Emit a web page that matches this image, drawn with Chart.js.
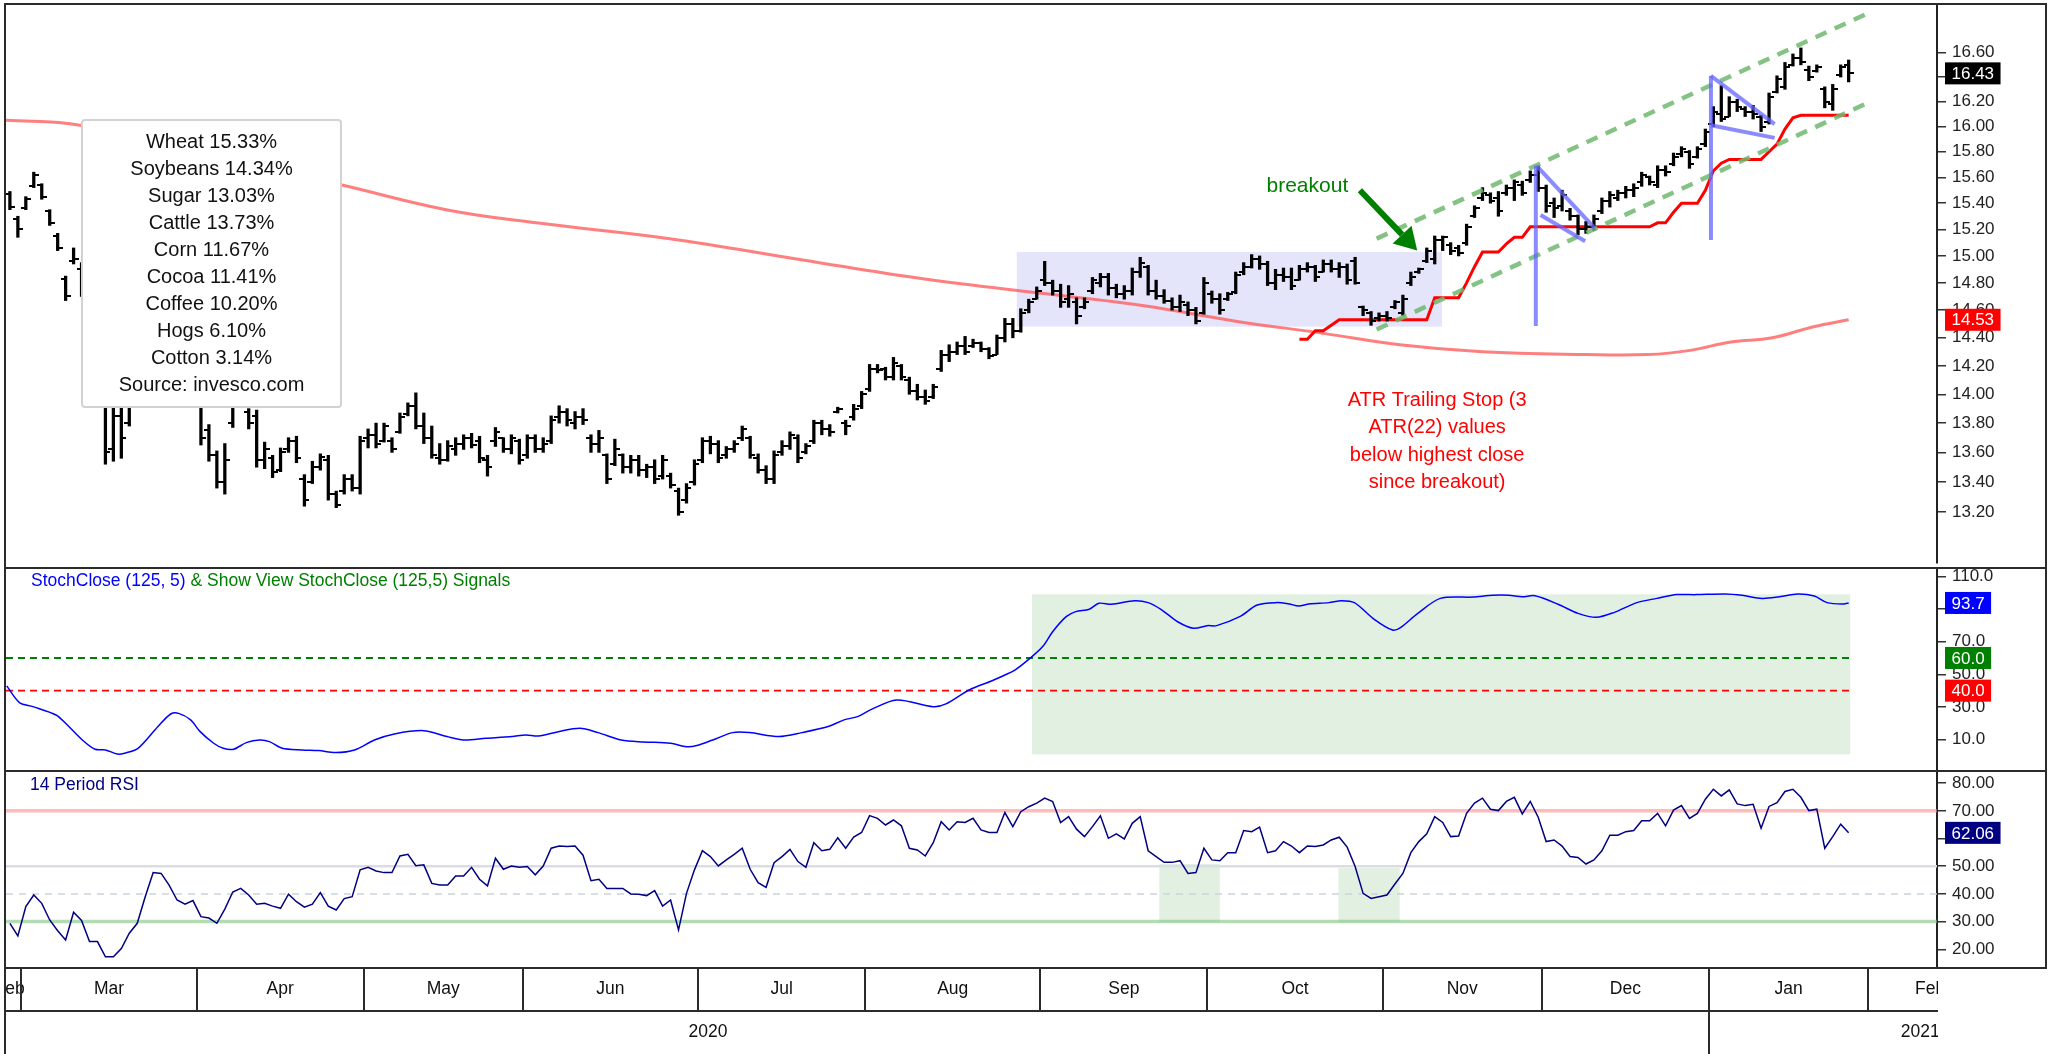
<!DOCTYPE html>
<html>
<head>
<meta charset="utf-8">
<title>DBA – StochClose and RSI</title>
<script src="https://cdn.jsdelivr.net/npm/chart.js@4.4.1/dist/chart.umd.min.js"></script>
<style>
  body { margin: 0; background: #fff; }
  #page { position: relative; width: 2049px; height: 1054px; overflow: hidden; background: #fff; }
  #page canvas { position: absolute; left: 0; }
  .rule { position: absolute; background: #2b2b2b; }
</style>
</head>
<body>
<div id="page">
  <canvas id="priceChart" width="2049" height="568" style="top:0"></canvas>
  <canvas id="stochChart" width="2049" height="203" style="top:568px"></canvas>
  <canvas id="rsiChart" width="2049" height="283" style="top:771px"></canvas>
  <div class="rule" style="left:4px;top:3px;width:2043px;height:2px"></div>
  <div class="rule" style="left:4px;top:3px;width:2px;height:1051px"></div>
  <div class="rule" style="left:2045px;top:3px;width:2px;height:966px"></div>
  <div class="rule" style="left:4px;top:567px;width:2043px;height:2px"></div>
  <div class="rule" style="left:4px;top:770px;width:2043px;height:2px"></div>
  <div class="rule" style="left:4px;top:967px;width:2043px;height:2px"></div>
  <div class="rule" style="left:4px;top:1010px;width:1934px;height:2px"></div>
</div>
<script>
const FONT = '"Liberation Sans", Arial, Helvetica, sans-serif';
Chart.defaults.font.family = FONT;
Chart.defaults.color = '#222';

// trading day index: 0 = 2 Mar 2020, the first two bars are the end of February
const firstDay = -2;

const opens = [
  15.47, 15.28, 15.36, 15.53, 15.54, 15.34, 15.15, 14.83, 14.96, 14.90,
  14.70, 14.35, 13.95, 13.62, 13.85, 13.80, 14.00, 14.15, 14.30, 14.40,
  14.30, 14.25, 14.10, 14.05, 14.00, 13.75, 13.58, 13.40, 13.80, 13.95,
  13.88, 13.85, 13.55, 13.56, 13.48, 13.62, 13.68, 13.42, 13.40, 13.50,
  13.55, 13.32, 13.34, 13.42, 13.36, 13.70, 13.72, 13.68, 13.68, 13.74,
  13.86, 13.92, 13.78, 13.70, 13.56, 13.55, 13.62, 13.66, 13.70, 13.68,
  13.55, 13.68, 13.70, 13.62, 13.68, 13.58, 13.70, 13.62, 13.68, 13.84,
  13.88, 13.80, 13.84, 13.70, 13.66, 13.58, 13.52, 13.58, 13.50, 13.55,
  13.48, 13.50, 13.44, 13.44, 13.34, 13.28, 13.40, 13.55, 13.68, 13.66,
  13.58, 13.62, 13.70, 13.70, 13.56, 13.48, 13.42, 13.60, 13.64, 13.70,
  13.60, 13.68, 13.80, 13.76, 13.88, 13.80, 13.84, 13.92, 14.04, 14.18,
  14.18, 14.12, 14.20, 14.10, 14.02, 13.98, 13.98, 14.18, 14.28, 14.30,
  14.34, 14.34, 14.36, 14.32, 14.28, 14.40, 14.50, 14.45, 14.60, 14.68,
  14.82, 14.80, 14.74, 14.68, 14.66, 14.62, 14.74, 14.80, 14.84, 14.76,
  14.72, 14.74, 14.88, 14.92, 14.74, 14.70, 14.67, 14.62, 14.64, 14.60,
  14.58, 14.72, 14.68, 14.68, 14.73, 14.88, 14.92, 14.98, 14.94, 14.80,
  14.86, 14.84, 14.82, 14.90, 14.92, 14.88, 14.94, 14.90, 14.92, 14.96,
  14.62, 14.58, 14.54, 14.56, 14.62, 14.58, 14.80, 14.88, 14.96, 14.98,
  15.12, 15.08, 15.06, 15.10, 15.30, 15.44, 15.46, 15.44, 15.48, 15.52,
  15.54, 15.58, 15.62, 15.52, 15.40, 15.38, 15.34, 15.30, 15.20, 15.22,
  15.34, 15.42, 15.44, 15.48, 15.50, 15.56, 15.60, 15.54, 15.66, 15.70,
  15.78, 15.80, 15.76, 15.86, 16.02, 16.10, 16.08, 16.20, 16.14, 16.12,
  16.08, 16.04, 16.28, 16.32, 16.50, 16.56, 16.46, 16.45, 16.30, 16.18,
  16.42, 16.50
];
const highs = [
  15.49, 15.30, 15.45, 15.64, 15.55, 15.35, 15.17, 14.85, 15.06, 14.95,
  14.75, 14.40, 14.05, 13.95, 13.95, 14.05, 14.20, 14.35, 14.45, 14.50,
  14.40, 14.35, 14.20, 14.15, 14.05, 13.79, 13.61, 13.66, 13.98, 14.05,
  13.90, 13.89, 13.67, 13.58, 13.63, 13.70, 13.71, 13.45, 13.54, 13.59,
  13.58, 13.34, 13.45, 13.45, 13.71, 13.76, 13.80, 13.80, 13.70, 13.87,
  13.94, 14.01, 13.87, 13.78, 13.66, 13.68, 13.70, 13.72, 13.73, 13.71,
  13.58, 13.77, 13.70, 13.72, 13.69, 13.72, 13.72, 13.70, 13.85, 13.92,
  13.90, 13.88, 13.90, 13.72, 13.75, 13.59, 13.69, 13.59, 13.58, 13.58,
  13.52, 13.55, 13.58, 13.46, 13.36, 13.39, 13.55, 13.70, 13.71, 13.68,
  13.64, 13.68, 13.78, 13.71, 13.59, 13.51, 13.61, 13.68, 13.74, 13.72,
  13.66, 13.82, 13.82, 13.79, 13.91, 13.82, 13.93, 14.02, 14.21, 14.21,
  14.19, 14.26, 14.21, 14.12, 14.07, 14.03, 14.07, 14.31, 14.35, 14.37,
  14.41, 14.39, 14.37, 14.33, 14.42, 14.54, 14.54, 14.61, 14.68, 14.77,
  14.96, 14.82, 14.79, 14.78, 14.69, 14.69, 14.84, 14.87, 14.87, 14.79,
  14.78, 14.91, 14.99, 14.93, 14.82, 14.75, 14.69, 14.71, 14.66, 14.62,
  14.84, 14.74, 14.72, 14.73, 14.88, 14.95, 15.01, 15.00, 14.96, 14.90,
  14.91, 14.91, 14.93, 14.95, 14.93, 14.97, 14.97, 14.95, 14.94, 14.99,
  14.63, 14.59, 14.58, 14.59, 14.67, 14.71, 14.88, 14.91, 15.06, 15.15,
  15.15, 15.10, 15.08, 15.24, 15.38, 15.52, 15.48, 15.49, 15.54, 15.58,
  15.57, 15.65, 15.69, 15.54, 15.44, 15.50, 15.36, 15.31, 15.26, 15.31,
  15.44, 15.49, 15.50, 15.53, 15.55, 15.64, 15.61, 15.69, 15.69, 15.79,
  15.84, 15.81, 15.84, 15.98, 16.16, 16.33, 16.24, 16.22, 16.16, 16.17,
  16.09, 16.27, 16.41, 16.52, 16.59, 16.64, 16.49, 16.50, 16.32, 16.34,
  16.50, 16.54
];
const lows = [
  15.35, 15.14, 15.35, 15.52, 15.43, 15.23, 15.04, 14.67, 14.94, 14.70,
  14.35, 13.95, 13.52, 13.54, 13.56, 13.78, 13.93, 14.05, 14.20, 14.25,
  14.15, 14.05, 13.98, 13.95, 13.65, 13.54, 13.36, 13.32, 13.77, 13.91,
  13.76, 13.50, 13.49, 13.43, 13.47, 13.60, 13.53, 13.24, 13.39, 13.48,
  13.28, 13.23, 13.32, 13.34, 13.32, 13.63, 13.63, 13.67, 13.60, 13.73,
  13.85, 13.76, 13.66, 13.56, 13.52, 13.54, 13.58, 13.62, 13.63, 13.53,
  13.44, 13.64, 13.60, 13.59, 13.52, 13.56, 13.60, 13.60, 13.66, 13.80,
  13.78, 13.76, 13.79, 13.60, 13.60, 13.39, 13.51, 13.46, 13.46, 13.44,
  13.43, 13.39, 13.42, 13.36, 13.18, 13.26, 13.38, 13.53, 13.59, 13.53,
  13.56, 13.60, 13.68, 13.56, 13.46, 13.39, 13.39, 13.58, 13.62, 13.53,
  13.59, 13.66, 13.72, 13.71, 13.87, 13.72, 13.82, 13.90, 14.02, 14.15,
  14.10, 14.10, 14.10, 14.00, 13.96, 13.93, 13.97, 14.16, 14.23, 14.28,
  14.28, 14.33, 14.30, 14.25, 14.28, 14.37, 14.40, 14.44, 14.58, 14.68,
  14.78, 14.71, 14.62, 14.62, 14.50, 14.61, 14.72, 14.77, 14.71, 14.69,
  14.68, 14.71, 14.84, 14.71, 14.68, 14.65, 14.60, 14.59, 14.56, 14.50,
  14.57, 14.65, 14.57, 14.67, 14.72, 14.86, 14.91, 14.90, 14.78, 14.75,
  14.81, 14.75, 14.82, 14.88, 14.81, 14.88, 14.88, 14.84, 14.79, 14.79,
  14.56, 14.49, 14.52, 14.52, 14.61, 14.56, 14.78, 14.87, 14.95, 14.94,
  15.04, 15.01, 15.00, 15.08, 15.29, 15.42, 15.40, 15.30, 15.46, 15.42,
  15.46, 15.56, 15.49, 15.33, 15.29, 15.34, 15.27, 15.16, 15.17, 15.19,
  15.32, 15.37, 15.42, 15.44, 15.45, 15.53, 15.54, 15.52, 15.61, 15.69,
  15.76, 15.67, 15.75, 15.84, 16.00, 16.04, 16.08, 16.12, 16.08, 16.06,
  15.96, 16.02, 16.27, 16.30, 16.49, 16.50, 16.37, 16.44, 16.15, 16.13,
  16.40, 16.36
];
const closes = [
  15.37, 15.20, 15.43, 15.62, 15.45, 15.25, 15.06, 14.70, 14.98, 14.75,
  14.40, 14.05, 13.60, 13.85, 13.70, 13.98, 14.15, 14.30, 14.40, 14.30,
  14.25, 14.10, 14.05, 14.10, 13.70, 13.58, 13.40, 13.55, 13.95, 13.98,
  13.80, 13.55, 13.62, 13.47, 13.60, 13.68, 13.56, 13.28, 13.50, 13.57,
  13.32, 13.25, 13.42, 13.36, 13.68, 13.72, 13.66, 13.78, 13.62, 13.84,
  13.92, 13.78, 13.70, 13.58, 13.55, 13.64, 13.66, 13.70, 13.65, 13.56,
  13.50, 13.74, 13.62, 13.70, 13.55, 13.70, 13.62, 13.66, 13.82, 13.88,
  13.82, 13.84, 13.82, 13.66, 13.70, 13.42, 13.62, 13.50, 13.55, 13.48,
  13.50, 13.42, 13.55, 13.38, 13.20, 13.36, 13.52, 13.68, 13.66, 13.56,
  13.62, 13.66, 13.76, 13.58, 13.48, 13.42, 13.58, 13.64, 13.72, 13.56,
  13.64, 13.80, 13.76, 13.74, 13.90, 13.78, 13.90, 14.00, 14.18, 14.17,
  14.12, 14.22, 14.12, 14.02, 13.98, 13.95, 14.05, 14.28, 14.30, 14.34,
  14.30, 14.36, 14.32, 14.27, 14.40, 14.50, 14.45, 14.58, 14.66, 14.74,
  14.80, 14.74, 14.66, 14.72, 14.56, 14.66, 14.82, 14.84, 14.76, 14.72,
  14.74, 14.88, 14.95, 14.74, 14.70, 14.67, 14.62, 14.66, 14.60, 14.52,
  14.80, 14.68, 14.60, 14.72, 14.86, 14.92, 14.98, 14.94, 14.80, 14.86,
  14.84, 14.78, 14.90, 14.92, 14.84, 14.94, 14.90, 14.92, 14.82, 14.80,
  14.60, 14.52, 14.56, 14.54, 14.66, 14.68, 14.84, 14.90, 15.04, 15.12,
  15.14, 15.04, 15.02, 15.22, 15.36, 15.48, 15.42, 15.34, 15.52, 15.56,
  15.48, 15.62, 15.52, 15.38, 15.36, 15.46, 15.30, 15.20, 15.22, 15.28,
  15.42, 15.46, 15.48, 15.50, 15.52, 15.62, 15.56, 15.66, 15.64, 15.76,
  15.82, 15.70, 15.82, 15.96, 16.12, 16.06, 16.20, 16.16, 16.12, 16.10,
  16.00, 16.24, 16.38, 16.48, 16.56, 16.52, 16.40, 16.48, 16.20, 16.30,
  16.48, 16.43
];
const days = closes.map((_, k) => firstDay + k);

// 200-day moving average, read at a few points along the curve
const smaDay = [-2.5, 6.8, 39.7, 52.8, 64.1, 80.9, 97.6, 112.7, 129.5, 140.7, 152.0, 163.2, 172.6, 183.0, 196.0, 203.8, 209.1, 214.2, 219.4, 224.6, 229.0];
const smaVal = [16.05, 16.01, 15.54, 15.35, 15.25, 15.13, 14.97, 14.83, 14.71, 14.63, 14.52, 14.43, 14.35, 14.30, 14.28, 14.28, 14.31, 14.37, 14.40, 14.48, 14.53];

// ATR trailing stop, one value per day from day 160
const atrFrom = 160;
const atrStop = [
  14.39, 14.39, 14.45, 14.45, 14.49, 14.53, 14.53, 14.53, 14.53, 14.53,
  14.53, 14.53, 14.53, 14.53, 14.53, 14.53, 14.53, 14.69, 14.69, 14.69,
  14.69, 14.80, 14.92, 15.03, 15.03, 15.03, 15.09, 15.14, 15.14, 15.22,
  15.22, 15.22, 15.22, 15.22, 15.22, 15.22, 15.22, 15.22, 15.22, 15.22,
  15.22, 15.22, 15.22, 15.22, 15.22, 15.25, 15.25, 15.33, 15.40, 15.40,
  15.40, 15.50, 15.65, 15.71, 15.74, 15.74, 15.74, 15.74, 15.74, 15.80,
  15.86, 15.98, 16.07, 16.09, 16.09, 16.09, 16.09, 16.09, 16.09, 16.09
];

// drawn trend lines: [day, price] end points
const channelTop = [[169.7, 15.13], [231.4, 16.93]];
const channelBottom = [[169.7, 14.46], [231.4, 16.19]];
const pole1 = [[189.7, 15.69], [189.7, 14.485]];
const pennant1Top = [[189.8, 15.69], [197.1, 15.21]];
const pennant1Bottom = [[190.3, 15.31], [195.9, 15.11]];
const pole2 = [[211.7, 16.41], [211.7, 15.12]];
const pennant2Top = [[211.7, 16.41], [219.7, 16.02]];
const pennant2Bottom = [[211.7, 16.01], [219.7, 15.91]];
const rangeBox = { from: 124.5, to: 177.9, top: 15.03, bottom: 14.48 };

const breakoutAt = [161.0, 15.53];
const arrowFrom = [167.6, 15.50];
const arrowTo = [174.8, 15.04];
const atrNoteAt = [177.3, 13.96];
const atrNote = ['ATR Trailing Stop (3', 'ATR(22) values', 'below highest close', 'since breakout)'];

const weights = ['Wheat 15.33%', 'Soybeans 14.34%', 'Sugar 13.03%', 'Cattle 13.73%', 'Corn 11.67%',
  'Cocoa 11.41%', 'Coffee 10.20%', 'Hogs 6.10%', 'Cotton 3.14%', 'Source: invesco.com'];

const priceTicks = [13.2, 13.4, 13.6, 13.8, 14.0, 14.2, 14.4, 14.6, 14.8, 15.0, 15.2, 15.4, 15.6, 15.8, 16.0, 16.2, 16.4, 16.6];

// StochClose (125,5)
const stochDay = [-2.4, -0.8, 0.9, 3.8, 5.0, 7.1, 8.7, 10.0, 11.5, 12.4, 14.1, 16.6, 18.2, 19.2, 20.7, 21.9, 23.6, 24.8, 26.1, 27.7,
  29.4, 30.6, 32.2, 34.7, 36.8, 38.9, 41.3, 43.8, 46.3, 50.0, 52.9, 55.0, 57.8, 61.1, 62.8, 64.4, 66.9, 69.6, 71.9, 74.8,
  77.6, 81.0, 83.0, 84.3, 86.3, 88.8, 90.9, 94.6, 97.5, 100.8, 102.8, 104.5, 106.1, 109.4, 114.0, 115.6, 118.5, 121.4, 123.0, 124.3,
  126.4, 127.8, 129.0, 130.7, 131.9, 133.6, 134.8, 136.4, 139.3, 141.0, 142.6, 144.7, 146.7, 148.4, 149.6, 152.5, 154.7, 157.1, 158.7, 159.9,
  161.2, 163.7, 165.3, 166.9, 169.4, 171.7, 172.7, 174.8, 177.7, 181.8, 184.3, 186.3, 188.0, 189.6, 192.5, 195.0, 197.3, 199.5, 202.4, 204.9,
  207.4, 209.8, 213.5, 215.6, 218.1, 220.1, 222.6, 224.7, 226.3, 228.4, 229.0];
const stochVal = [42.9, 32.7, 30.2, 25.1, 20.0, 9.8, 4.1, 3.7, 1.2, 1.7, 4.7, 18.0, 25.7, 26.1, 22.1, 14.9, 7.8, 4.7, 4.1, 8.2,
  9.8, 8.8, 4.7, 3.7, 3.3, 2.1, 3.7, 9.8, 13.5, 15.5, 11.9, 9.8, 10.8, 11.9, 12.9, 12.3, 14.9, 17.0, 14.3, 9.8,
  8.6, 7.8, 5.7, 6.4, 9.8, 14.3, 14.3, 11.9, 14.3, 18.0, 22.1, 24.1, 28.2, 34.3, 30.2, 31.9, 40.4, 46.1, 49.6, 52.7,
  60.8, 67.3, 76.1, 85.3, 88.4, 89.8, 93.5, 92.9, 95.1, 93.9, 89.8, 82.2, 78.2, 79.8, 79.8, 85.3, 92.4, 93.9, 93.1, 91.8,
  93.1, 93.9, 95.1, 93.9, 83.7, 77.1, 78.6, 87.0, 96.5, 97.3, 98.4, 98.4, 97.5, 98.1, 92.9, 87.3, 84.9, 87.8, 93.9, 96.5,
  98.8, 98.8, 99.2, 98.4, 96.5, 97.3, 99.2, 97.9, 93.9, 93.1, 93.7];
const stochSignal = { from: 126.4, to: 229.2, top: 99, bottom: 1 };
const stochTicks = [10, 30, 50, 70, 90, 110];

// 14 period RSI, one value per day from firstDay
const rsiVals = [
  29.4, 24.8, 35.4, 39.6, 36.6, 30.6, 26.7, 23.4, 33.4, 30.4,
  22.8, 22.8, 17.3, 17.3, 20.3, 25.8, 29.4, 39.0, 47.7, 47.4,
  43.2, 37.8, 36.3, 37.6, 31.8, 31.3, 29.4, 34.5, 40.7, 42.0,
  39.6, 36.3, 36.6, 35.6, 34.8, 39.9, 37.2, 35.2, 36.3, 40.5,
  35.6, 34.2, 38.3, 39.0, 48.7, 49.6, 48.3, 47.7, 47.7, 53.7,
  54.3, 50.2, 50.5, 43.8, 43.2, 43.2, 46.5, 46.5, 49.6, 45.3,
  42.9, 52.9, 48.9, 50.1, 49.6, 49.9, 46.9, 50.1, 56.5, 57.3,
  57.1, 57.3, 54.0, 44.8, 45.3, 42.0, 42.0, 42.0, 40.0, 39.9,
  39.4, 41.2, 35.6, 37.8, 27.0, 40.2, 48.7, 55.6, 53.5, 50.1,
  52.3, 54.3, 56.5, 48.9, 44.1, 42.4, 51.3, 53.5, 56.1, 51.7,
  49.6, 58.5, 55.6, 56.1, 60.3, 56.5, 60.5, 62.2, 68.3, 67.3,
  64.9, 66.7, 64.6, 56.5, 55.9, 53.7, 58.5, 66.1, 63.1, 66.1,
  65.8, 67.3, 63.1, 62.2, 62.2, 69.4, 64.3, 69.7, 71.5,
  72.8, 74.6, 73.4, 65.8, 67.9, 63.4, 60.7, 64.3, 68.2, 60.1,
  61.7, 59.9, 65.5, 67.9, 55.6, 53.5, 51.4, 51.4, 52.0, 47.4,
  47.7, 56.5, 52.3, 52.0, 54.9, 54.9, 62.9, 62.5, 64.1, 54.9,
  55.6, 58.9, 57.3, 54.9, 57.3, 57.1, 57.7, 59.5, 60.5, 56.9,
  49.9, 40.2, 38.4, 39.0, 39.6, 43.6, 47.4, 54.9, 58.9, 61.7,
  67.9, 65.8, 60.7, 60.9, 69.1, 72.8, 74.6, 70.6, 70.1, 73.4,
  74.9, 68.9, 73.4, 67.7, 58.9, 59.5, 57.3, 53.5, 53.2, 50.8,
  52.3, 55.6, 61.2, 61.2, 62.5, 62.9, 66.4, 66.4, 69.1, 64.6,
  70.3, 71.9, 67.3, 69.1, 74.2, 77.8, 75.4, 77.6, 72.5, 71.9,
  72.4, 63.7, 71.6, 73.0, 77.0, 77.8, 74.9, 70.1, 70.6, 56.5,
  60.7, 65.2, 62.06
];
const rsiSignals = [
  { from: 142.4, to: 150.0, top: 50.8, bottom: 29.75 },
  { from: 164.9, to: 172.6, top: 49.3, bottom: 29.75 }
];
const rsiTicks = [20, 30, 40, 50, 60, 70, 80];

// first trading day of each month on the axis (Feb 2020 .. Feb 2021)
const monthNames = ['Feb', 'Mar', 'Apr', 'May', 'Jun', 'Jul', 'Aug', 'Sep', 'Oct', 'Nov', 'Dec', 'Jan', 'Feb'];
const monthStart = [-20, 0, 22, 43, 63, 85, 106, 128, 149, 171, 191, 212, 232];
const yearNames = ['2020', '2021'];
const yearTickDay = [85.7, 238.0];
const newYearMonth = 11;

const xMin = -2.49, xMax = 240.1;
const gap = 0.55; // month divider sits just before the month's first bar

// labels sit mid-month; the cut-off months at either end lean outwards
const monthMid = monthStart.map((s, k) => {
  const a = Math.max(s - gap, xMin - 1);
  const b = k + 1 < monthStart.length ? monthStart[k + 1] - gap : s + 15;
  return (a + b) / 2;
});

const pts = arr => arr.map(([x, y]) => ({ x, y }));
const hline = (v, from, to) => [{ x: from, y: v }, { x: to, y: v }];
const seg = (data, color, width, dash) => ({
  type: 'line', data, borderColor: color, borderWidth: width, borderDash: dash || [],
  pointRadius: 0, fill: false, tension: 0
});

function tickMark(side) {
  const c = document.createElement('canvas');
  c.width = 10; c.height = 2;
  const g = c.getContext('2d');
  g.fillStyle = '#000';
  g.fillRect(side === 'left' ? 0 : 5, 0, 5, 2);
  return c;
}

const fitRight = s => { s.width = 112; s.paddingTop = 0; s.paddingBottom = 0; };
const hiddenX = () => ({ type: 'linear', min: xMin, max: xMax, bounds: 'data', display: false, offset: false });
const rightAxis = (extra) => Object.assign({
  position: 'right', bounds: 'data',
  grid: { drawOnChartArea: false, color: '#333', tickLength: 9, lineWidth: 1.5 },
  border: { display: true, color: '#222', width: 2 },
  afterFit: fitRight
}, extra);
const tickFont = { size: 17 };

function valueTag(ctx, scale, value, text, bg) {
  const y = scale.getPixelForValue(value);
  ctx.save();
  ctx.font = '17px ' + FONT;
  const w = ctx.measureText(text).width + 13;
  ctx.fillStyle = bg;
  ctx.fillRect(scale.left + 8, y - 11, w, 22);
  ctx.fillStyle = '#fff';
  ctx.textAlign = 'left';
  ctx.textBaseline = 'middle';
  ctx.fillText(text, scale.left + 14.5, y + 1);
  ctx.restore();
}

function shadeBoxes(chart, boxes, color, yId) {
  const { ctx, chartArea } = chart;
  const x = chart.scales.x, y = chart.scales[yId || 'y'];
  ctx.save();
  ctx.beginPath();
  ctx.rect(chartArea.left, chartArea.top, chartArea.width, chartArea.height);
  ctx.clip();
  ctx.fillStyle = color;
  boxes.forEach(b => {
    const x0 = x.getPixelForValue(b.from), x1 = x.getPixelForValue(b.to);
    const y0 = y.getPixelForValue(b.top), y1 = y.getPixelForValue(b.bottom);
    ctx.fillRect(x0, y0, x1 - x0, y1 - y0);
  });
  ctx.restore();
}

const base = {
  responsive: false,
  animation: false,
  events: [],
  plugins: { legend: { display: false }, tooltip: { enabled: false } }
};

// ---------- price panel ----------
new Chart(document.getElementById('priceChart'), {
  type: 'bar',
  data: {
    datasets: [
      seg(pts(pole1), 'rgba(100,100,255,0.75)', 4),
      seg(pts(pennant1Top), 'rgba(100,100,255,0.75)', 4),
      seg(pts(pennant1Bottom), 'rgba(100,100,255,0.75)', 4),
      seg(pts(pole2), 'rgba(100,100,255,0.75)', 4),
      seg(pts(pennant2Top), 'rgba(100,100,255,0.75)', 4),
      seg(pts(pennant2Bottom), 'rgba(100,100,255,0.75)', 4),
      seg(pts(channelTop), 'rgba(110,185,110,0.85)', 4.5, [12, 9]),
      seg(pts(channelBottom), 'rgba(110,185,110,0.85)', 4.5, [12, 9]),
      {
        type: 'scatter', label: 'Open',
        data: days.map((d, k) => ({ x: d, y: opens[k] })),
        pointStyle: tickMark('left'), pointRadius: 3
      },
      {
        type: 'scatter', label: 'Close',
        data: days.map((d, k) => ({ x: d, y: closes[k] })),
        pointStyle: tickMark('right'), pointRadius: 3
      },
      {
        type: 'bar', label: 'High-Low',
        data: days.map((d, k) => ({ x: d, y: [lows[k], highs[k]] })),
        backgroundColor: '#000', borderWidth: 0, barThickness: 2.6
      },
      Object.assign(seg(atrStop.map((v, k) => ({ x: atrFrom + k, y: v })), '#ff0000', 3), { label: 'ATR stop' }),
      Object.assign(seg(smaDay.map((d, k) => ({ x: d, y: smaVal[k] })), 'rgba(255,95,95,0.8)', 3), { label: 'SMA 200', tension: 0.4 })
    ]
  },
  options: Object.assign({}, base, {
    layout: { padding: { top: 5, left: 6, right: 0, bottom: 0 } },
    scales: {
      x: hiddenX(),
      y: rightAxis({
        type: 'logarithmic', min: 12.87, max: 17.0, beginAtZero: false,
        afterBuildTicks: s => { s.ticks = priceTicks.map(v => ({ value: v })); },
        ticks: { callback: v => Number(v).toFixed(2), padding: 6, color: '#222', font: tickFont, autoSkip: false }
      })
    }
  }),
  plugins: [{
    id: 'priceNotes',
    beforeDatasetsDraw(chart) {
      shadeBoxes(chart, [rangeBox], 'rgba(205,205,248,0.55)');
    },
    afterDatasetsDraw(chart) {
      const { ctx } = chart;
      const x = chart.scales.x, y = chart.scales.y;
      ctx.save();
      // breakout label and arrow
      ctx.font = '21px ' + FONT;
      ctx.fillStyle = '#008000';
      ctx.textAlign = 'center';
      ctx.textBaseline = 'middle';
      ctx.fillText('breakout', x.getPixelForValue(breakoutAt[0]), y.getPixelForValue(breakoutAt[1]));
      const x0 = x.getPixelForValue(arrowFrom[0]), y0 = y.getPixelForValue(arrowFrom[1]);
      const x1 = x.getPixelForValue(arrowTo[0]), y1 = y.getPixelForValue(arrowTo[1]);
      const ang = Math.atan2(y1 - y0, x1 - x0);
      const bx = x1 - 22 * Math.cos(ang), by = y1 - 22 * Math.sin(ang);
      ctx.strokeStyle = '#008000';
      ctx.lineWidth = 6;
      ctx.beginPath(); ctx.moveTo(x0, y0); ctx.lineTo(bx, by); ctx.stroke();
      ctx.beginPath();
      ctx.moveTo(x1, y1);
      ctx.lineTo(bx + 13 * Math.sin(ang), by - 13 * Math.cos(ang));
      ctx.lineTo(bx - 13 * Math.sin(ang), by + 13 * Math.cos(ang));
      ctx.closePath(); ctx.fill();
      // ATR note
      ctx.font = '20px ' + FONT;
      ctx.fillStyle = '#ff0000';
      const nx = x.getPixelForValue(atrNoteAt[0]), ny = y.getPixelForValue(atrNoteAt[1]);
      atrNote.forEach((t, k) => ctx.fillText(t, nx, ny + k * 27.5));
      // weights box
      ctx.fillStyle = '#fff';
      ctx.strokeStyle = '#d2d2d2';
      ctx.lineWidth = 2;
      ctx.beginPath();
      ctx.roundRect(82, 120, 259, 287, 3);
      ctx.fill(); ctx.stroke();
      ctx.fillStyle = '#111';
      weights.forEach((t, k) => ctx.fillText(t, 211.5, 142 + k * 27.1));
      ctx.restore();
    },
    afterDraw(chart) {
      const y = chart.scales.y;
      valueTag(chart.ctx, y, smaVal[smaVal.length - 1], smaVal[smaVal.length - 1].toFixed(2), '#ff0000');
      valueTag(chart.ctx, y, closes[closes.length - 1], closes[closes.length - 1].toFixed(2), '#000');
    }
  }]
});

// ---------- StochClose panel ----------
new Chart(document.getElementById('stochChart'), {
  type: 'line',
  data: {
    datasets: [
      Object.assign(seg(stochDay.map((d, k) => ({ x: d, y: stochVal[k] })), '#0000ff', 1.5), { tension: 0.3 }),
      seg(hline(60, xMin, stochSignal.to), '#008000', 1.8, [7, 5]),
      seg(hline(40, xMin, stochSignal.to), '#ff0000', 1.8, [7, 5])
    ]
  },
  options: Object.assign({}, base, {
    layout: { padding: { top: 0, left: 6, right: 0, bottom: 0 } },
    scales: {
      x: hiddenX(),
      y: rightAxis({
        type: 'linear', min: -9.2, max: 115.1,
        afterBuildTicks: s => { s.ticks = stochTicks.map(v => ({ value: v })); },
        ticks: { callback: v => Number(v).toFixed(1), padding: 6, color: '#222', font: tickFont, autoSkip: false }
      })
    }
  }),
  plugins: [{
    id: 'stochNotes',
    beforeDatasetsDraw(chart) {
      shadeBoxes(chart, [stochSignal], '#e2f0e2');
    },
    afterDraw(chart) {
      const { ctx } = chart;
      const y = chart.scales.y;
      ctx.save();
      ctx.font = '17.5px ' + FONT;
      ctx.textAlign = 'left';
      ctx.textBaseline = 'middle';
      const first = 'StochClose (125, 5)';
      ctx.fillStyle = '#0000ff';
      ctx.fillText(first, 31, 13.5);
      ctx.fillStyle = '#008000';
      ctx.fillText(' & Show View StochClose (125,5) Signals', 31 + ctx.measureText(first).width, 13.5);
      ctx.restore();
      valueTag(ctx, y, 40, '40.0', '#ff0000');
      valueTag(ctx, y, 60, '60.0', '#008000');
      const last = stochVal[stochVal.length - 1];
      valueTag(ctx, y, last, last.toFixed(1), '#0000ff');
    }
  }]
});

// ---------- RSI panel with the date axis ----------
new Chart(document.getElementById('rsiChart'), {
  type: 'line',
  data: {
    datasets: [
      seg(rsiVals.map((v, k) => ({ x: firstDay + k, y: v })), '#000080', 1.5),
      seg(hline(70, xMin, xMax), 'rgba(255,140,140,0.6)', 3.5),
      seg(hline(50, xMin, xMax), '#dcdce6', 2.5),
      seg(hline(40, xMin, xMax), '#cbd4de', 1.5, [7, 6]),
      seg(hline(30, xMin, xMax), 'rgba(130,195,130,0.6)', 3.5)
    ]
  },
  options: Object.assign({}, base, {
    layout: { padding: { top: 0, left: 6, right: 0, bottom: 0 } },
    scales: {
      x: {
        type: 'linear', min: xMin, max: xMax, bounds: 'data', position: 'bottom', offset: false,
        grid: { display: false, drawTicks: false },
        border: { display: false },
        afterBuildTicks: s => { s.ticks = monthMid.map(v => ({ value: v })); },
        ticks: { callback: (v, k) => monthNames[k], autoSkip: false, maxRotation: 0, minRotation: 0, padding: 11, color: '#111', font: { size: 17.5 } },
        afterFit: s => { s.height = 43; s.paddingLeft = 0; s.paddingRight = 0; }
      },
      x2: {
        type: 'linear', min: xMin, max: xMax, bounds: 'data', position: 'bottom', offset: false,
        grid: { display: false, drawTicks: false },
        border: { display: false },
        afterBuildTicks: s => { s.ticks = yearTickDay.map(v => ({ value: v })); },
        ticks: { callback: (v, k) => yearNames[k], autoSkip: false, maxRotation: 0, minRotation: 0, padding: 11, color: '#111', font: { size: 17.5 } },
        afterFit: s => { s.height = 43; s.paddingLeft = 0; s.paddingRight = 0; }
      },
      y: rightAxis({
        type: 'linear', min: 13.25, max: 84.4,
        afterBuildTicks: s => { s.ticks = rsiTicks.map(v => ({ value: v })); },
        ticks: { callback: v => Number(v).toFixed(2), padding: 6, color: '#222', font: tickFont, autoSkip: false }
      })
    }
  }),
  plugins: [{
    id: 'rsiNotes',
    beforeDatasetsDraw(chart) {
      shadeBoxes(chart, rsiSignals, '#e2f0e2');
    },
    afterDraw(chart) {
      const { ctx, chartArea } = chart;
      const x = chart.scales.x;
      ctx.save();
      ctx.font = '17.5px ' + FONT;
      ctx.textAlign = 'left';
      ctx.textBaseline = 'middle';
      ctx.fillStyle = '#000080';
      ctx.fillText('14 Period RSI', 30, 14);
      // month row is cut at the plot edges
      ctx.fillStyle = '#fff';
      ctx.fillRect(chartArea.right + 1, chartArea.bottom + 2, 120, 84);
      ctx.fillRect(0, chartArea.bottom + 2, chartArea.left, 41);
      // month dividers and the year divider
      ctx.strokeStyle = '#2b2b2b';
      ctx.lineWidth = 2;
      monthStart.forEach((s, k) => {
        const v = s - gap;
        if (v <= xMin || v >= xMax) return;
        const px = Math.round(x.getPixelForValue(v));
        ctx.beginPath();
        ctx.moveTo(px, chartArea.bottom);
        ctx.lineTo(px, chartArea.bottom + (k === newYearMonth ? 86 : 43));
        ctx.stroke();
      });
      ctx.restore();
      const last = rsiVals[rsiVals.length - 1];
      valueTag(ctx, chart.scales.y, last, last.toFixed(2), '#000080');
    }
  }]
});
</script>
</body>
</html>
